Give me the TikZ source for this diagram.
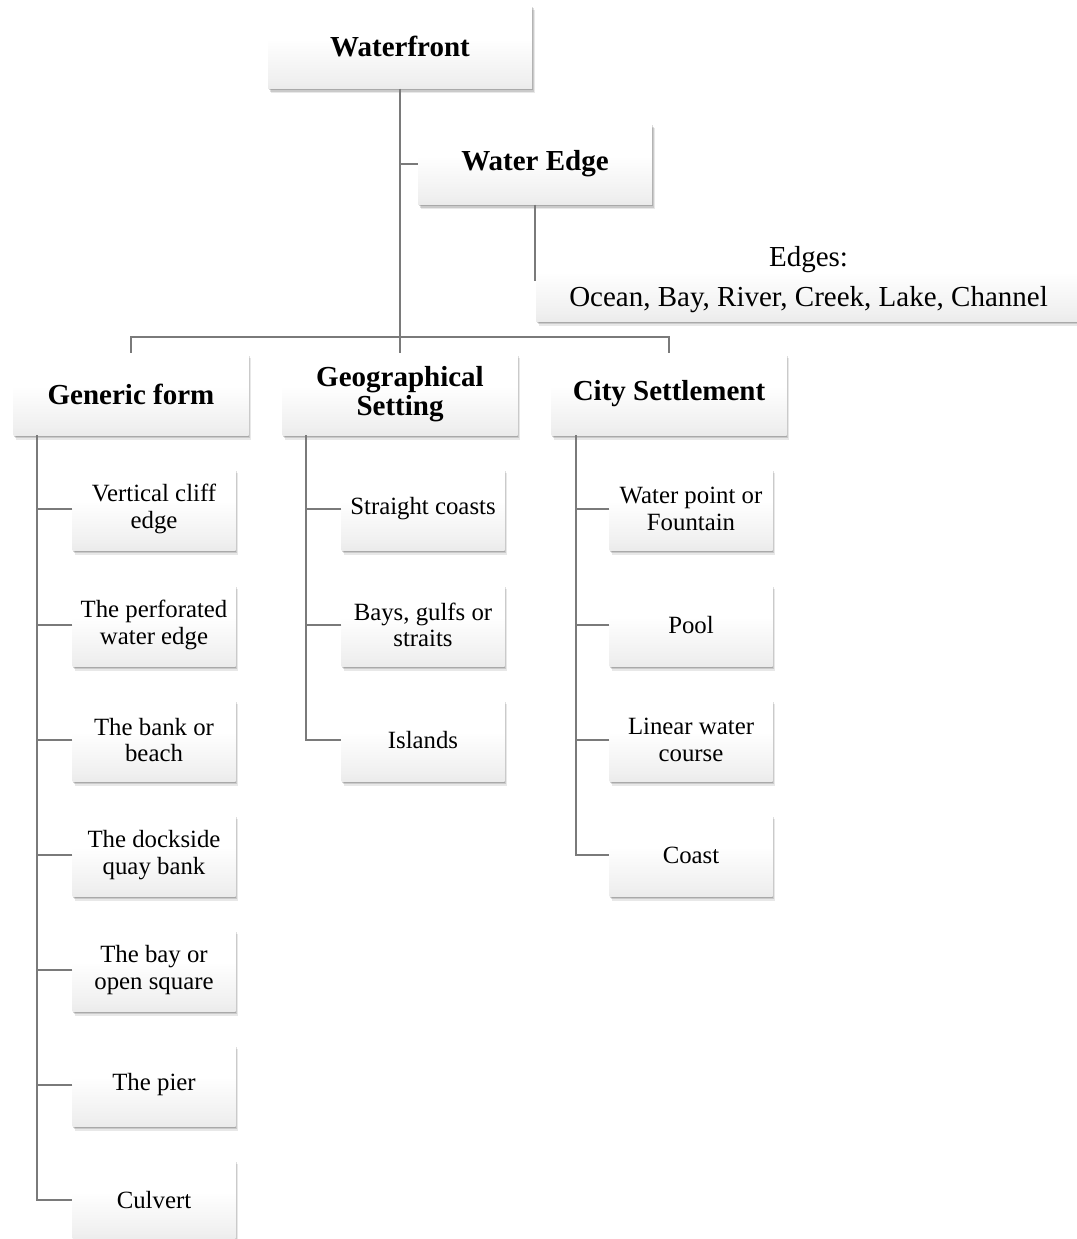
\documentclass[tikz,border=0pt]{standalone}
\usepackage{fontspec}
\setmainfont{Liberation Serif}
\usetikzlibrary{shadows}

% soft grey fade towards the bottom of every box
\pgfdeclareverticalshading{boxshade}{100bp}{%
  color(0bp)=(black!17); color(30bp)=(black!6); color(55bp)=(white); color(100bp)=(white)}

\tikzset{
  softshadow/.style={
    general shadow={shadow xshift=0.8pt,shadow yshift=-1.5pt,fill=black,opacity=0.16},
    general shadow={shadow xshift=1.8pt,shadow yshift=-3pt,fill=black,opacity=0.13},
    general shadow={shadow xshift=2.8pt,shadow yshift=-4.5pt,fill=black,opacity=0.09}},
  box/.style={softshadow, shading=boxshade, draw=none, align=center,
    inner sep=2pt, anchor=center, text=black},
  headbox/.style={box, minimum width=235pt, minimum height=82pt,
    font=\fontsize{29}{29.5}\selectfont\bfseries},
  leafbox/.style={box, minimum width=163pt, minimum height=82pt,
    font=\fontsize{24.8}{26.5}\selectfont},
  link/.style={draw=black!52, line width=1.8pt}
}

\begin{document}
\begin{tikzpicture}[x=1pt,y=-1pt]
\useasboundingbox (0,0) rectangle (1076,1239);

% top of the hierarchy
\node[headbox, minimum width=264pt, minimum height=83pt] (wf) at (400,47) {Waterfront};
\node[headbox, minimum width=234pt, minimum height=81pt] (we) at (535,164) {Water Edge};

% list of edge types
\node[box, minimum width=545pt, minimum height=82pt,
      font=\fontsize{29}{40}\selectfont] (ed) at (808.5,280) {Edges:\\Ocean, Bay, River, Creek, Lake, Channel};

% three main categories
\node[headbox] (gf) at (131,394) {Generic form};
\node[headbox] (gs) at (400,394) {Geographical\\Setting};
\node[headbox] (cs) at (669,394) {City Settlement};

% generic form
\node[leafbox] (g1) at (154,509)  {Vertical cliff\\edge};
\node[leafbox] (g2) at (154,625)  {The perforated\\water edge};
\node[leafbox] (g3) at (154,740)  {The bank or\\beach};
\node[leafbox] (g4) at (154,855)  {The dockside\\quay bank};
\node[leafbox] (g5) at (154,970)  {The bay or\\open square};
\node[leafbox] (g6) at (154,1085) {The pier};
\node[leafbox] (g7) at (154,1200) {Culvert};

% geographical setting
\node[leafbox] (s1) at (423,509) {Straight coasts};
\node[leafbox] (s2) at (423,625) {Bays, gulfs or\\straits};
\node[leafbox] (s3) at (423,740) {Islands};

% city settlement
\node[leafbox] (c1) at (691,509) {Water point or\\Fountain};
\node[leafbox] (c2) at (691,625) {Pool};
\node[leafbox] (c3) at (691,740) {Linear water\\course};
\node[leafbox] (c4) at (691,855) {Coast};

% connectors
\coordinate (bar) at (400,337);
\path[link] (wf.south) -- (bar);
\path[link] (we.west) -- (we.west -| wf.south);
\path[link] (we.south) -- ++(0,76);
\path[link] (gf.north) |- (bar) -| (cs.north);
\path[link] (gs.north) -- (bar);

\coordinate (gt) at ([xshift=24pt]gf.south west);
\path[link] (gt) |- (g7.west);
\foreach \n in {g1,g2,g3,g4,g5,g6} \path[link] (\n.west) -- (\n.west -| gt);

\coordinate (st) at ([xshift=24pt]gs.south west);
\path[link] (st) |- (s3.west);
\foreach \n in {s1,s2} \path[link] (\n.west) -- (\n.west -| st);

\coordinate (ct) at ([xshift=25pt]cs.south west);
\path[link] (ct) |- (c4.west);
\foreach \n in {c1,c2,c3} \path[link] (\n.west) -- (\n.west -| ct);
\end{tikzpicture}
\end{document}
